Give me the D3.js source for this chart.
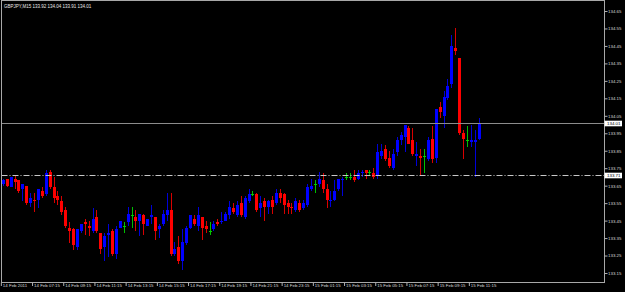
<!DOCTYPE html>
<html>
<head>
<meta charset="utf-8">
<script src="https://cdn.jsdelivr.net/npm/d3@7"></script>
<style>
  html, body { margin: 0; padding: 0; background: #000; }
  svg { display: block; }
  text { font-family: "Liberation Sans", Arial, sans-serif; }
</style>
</head>
<body>
<div id="chart"></div>
<script>
// GBPJPY M15 - une bougie par quart d'heure, 14 Feb 05:15 -> 15 Feb 11:45
var symbolTitle = "GBPJPY,M15";
var opens = [133.66,133.69,133.64,133.69,133.68,133.63,133.65,133.55,133.57,133.57,133.62,133.60,133.73,133.64,133.59,133.56,133.51,133.41,133.40,133.30,
  133.39,133.44,133.42,133.39,133.47,133.38,133.30,133.37,133.39,133.26,133.41,133.42,133.44,133.48,133.47,133.45,133.48,133.42,133.47,133.47,
  133.40,133.43,133.48,133.51,133.26,133.30,133.22,133.32,133.41,133.46,133.42,133.47,133.42,133.39,133.40,133.44,133.44,133.45,133.48,133.52,
  133.48,133.55,133.47,133.56,133.60,133.60,133.52,133.56,133.53,133.57,133.55,133.61,133.60,133.55,133.53,133.51,133.55,133.52,133.54,133.63,
  133.66,133.66,133.68,133.63,133.56,133.57,133.63,133.68,133.70,133.70,133.70,133.69,133.72,133.74,133.73,133.72,133.71,133.82,133.86,133.81,
  133.75,133.84,133.91,133.93,133.98,133.91,133.82,133.82,133.82,133.80,133.92,133.81,134.10,134.05,134.15,134.23,134.44,134.38,133.95,133.91,
  133.90,133.90,133.92];
var highs = [133.69,133.69,133.70,133.71,133.68,133.66,133.65,133.61,133.61,133.63,133.64,133.74,133.74,133.70,133.62,133.59,133.53,133.44,133.41,133.40,
  133.43,133.46,133.45,133.52,133.51,133.38,133.38,133.43,133.40,133.42,133.45,133.44,133.53,133.53,133.51,133.49,133.49,133.46,133.54,133.47,
  133.43,133.51,133.61,133.61,133.33,133.36,133.40,133.42,133.48,133.48,133.53,133.47,133.45,133.44,133.45,133.46,133.50,133.50,133.56,133.55,
  133.56,133.59,133.59,133.63,133.62,133.61,133.59,133.58,133.57,133.59,133.63,133.63,133.61,133.57,133.55,133.58,133.57,133.57,133.66,133.69,
  133.68,133.73,133.72,133.66,133.62,133.68,133.69,133.70,133.72,133.72,133.74,133.74,133.74,133.74,133.74,133.75,133.89,133.89,133.88,133.85,
  133.86,133.93,133.96,134.00,133.99,133.98,133.90,133.86,133.86,133.93,133.99,134.09,134.13,134.19,134.26,134.51,134.55,134.38,133.97,133.99,
  134.00,133.97,134.04];
var lows = [133.65,133.64,133.64,133.63,133.61,133.56,133.54,133.53,133.50,133.52,133.58,133.59,133.63,133.55,133.54,133.48,133.41,133.32,133.28,133.28,
  133.38,133.37,133.36,133.38,133.38,133.26,133.22,133.24,133.25,133.23,133.41,133.38,133.42,133.41,133.39,133.36,133.37,133.42,133.43,133.34,
  133.35,133.42,133.45,133.25,133.25,133.20,133.17,133.31,133.40,133.42,133.39,133.34,133.38,133.37,133.39,133.42,133.43,133.45,133.46,133.49,
  133.47,133.47,133.46,133.55,133.59,133.50,133.47,133.45,133.49,133.49,133.54,133.55,133.49,133.49,133.49,133.50,133.50,133.51,133.53,133.62,
  133.61,133.64,133.61,133.52,133.53,133.56,133.62,133.59,133.68,133.68,133.67,133.68,133.70,133.69,133.71,133.69,133.69,133.80,133.79,133.75,
  133.74,133.82,133.88,133.84,133.89,133.82,133.76,133.71,133.72,133.79,133.78,133.78,134.04,133.98,134.14,134.21,134.40,133.94,133.80,133.87,
  133.87,133.70,133.91];
var closes = [133.68,133.65,133.70,133.67,133.62,133.66,133.55,133.58,133.56,133.63,133.59,133.72,133.64,133.58,133.57,133.50,133.42,133.39,133.31,133.40,
  133.43,133.43,133.41,133.46,133.39,133.29,133.36,133.38,133.26,133.40,133.45,133.42,133.49,133.48,133.45,133.49,133.43,133.46,133.48,133.39,
  133.42,133.49,133.51,133.26,133.29,133.22,133.33,133.41,133.48,133.43,133.48,133.41,133.40,133.39,133.43,133.43,133.45,133.49,133.53,133.50,
  133.54,133.48,133.58,133.60,133.60,133.51,133.55,133.53,133.56,133.53,133.61,133.58,133.54,133.53,133.52,133.56,133.51,133.55,133.64,133.65,
  133.66,133.69,133.63,133.57,133.57,133.62,133.69,133.69,133.70,133.70,133.68,133.72,133.73,133.72,133.73,133.70,133.84,133.85,133.80,133.76,
  133.83,133.91,133.94,134.00,133.89,133.83,133.83,133.81,133.82,133.91,133.80,134.09,134.07,134.16,134.22,134.45,134.42,133.95,133.92,133.91,
  133.91,133.91,134.01];

// Graduations de l'axe des prix
var priceTicks = [133.15,133.25,133.35,133.45,133.55,133.65,133.75,133.85,133.95,134.05,134.15,134.25,134.35,134.45,134.55,134.65];
// Graduations de l'axe du temps (indice de bougie + libellé)
var timeTickIndex = [0,8,16,24,32,40,48,56,64,72,80,88,96,104,112,120];
var timeTickLabels = ["14 Feb 2011","14 Feb 07:15","14 Feb 09:15","14 Feb 11:15","14 Feb 13:15","14 Feb 15:15","14 Feb 17:15","14 Feb 19:15",
  "14 Feb 21:15","14 Feb 23:15","15 Feb 01:15","15 Feb 03:15","15 Feb 05:15","15 Feb 07:15","15 Feb 09:15","15 Feb 11:15"];
// Lignes horizontales : prix courant (bid) et ligne tracée
var bidPrice = 134.01;
var hLinePrice = 133.71;

var width = 625, height = 292;
var plot = { left: 1.5, top: 0.5, right: 604.5, bottom: 282.5 };

var svg = d3.select("#chart").append("svg")
  .attr("width", width)
  .attr("height", height);

svg.append("rect").attr("width", width).attr("height", height).attr("fill", "#000");

var bars = opens.map(function(o, i) {
  return { i: i, o: o, h: highs[i], l: lows[i], c: closes[i] };
});

// échelles
var x = d3.scaleLinear().domain([0, bars.length - 1]).range([2.8, 478.6]);
var step = x(1) - x(0);
var y = d3.scaleLinear().domain([133.15, 134.65]).range([273, 11]);

function candleColor(d) {
  if (d.c > d.o) return "#0000ff";
  if (d.c < d.o) return "#ff0000";
  return "#00d000";
}
function wickColor(d) {
  if (d.c > d.o) return "#0000d8";
  if (d.c < d.o) return "#d80000";
  return "#00c000";
}

var gBars = svg.append("g").attr("shape-rendering", "crispEdges");

// mèches
gBars.selectAll("line.wick")
  .data(bars)
  .enter()
  .append("line")
  .attr("class", "wick")
  .attr("x1", function(d) { return Math.round(x(d.i)) + 0.5; })
  .attr("x2", function(d) { return Math.round(x(d.i)) + 0.5; })
  .attr("y1", function(d) { return y(d.h); })
  .attr("y2", function(d) { return y(d.l); })
  .attr("stroke", wickColor)
  .attr("stroke-width", 1);

// corps des bougies
gBars.selectAll("rect.body")
  .data(bars)
  .enter()
  .append("rect")
  .attr("class", "body")
  .attr("x", function(d) { return Math.round(x(d.i)) - 1; })
  .attr("y", function(d) { return Math.min(y(d.o), y(d.c)); })
  .attr("width", 3)
  .attr("height", function(d) { return Math.max(1, Math.abs(y(d.o) - y(d.c))); })
  .attr("fill", candleColor);

// ligne tirets-points (objet ligne horizontale)
svg.append("line")
  .attr("x1", plot.left).attr("x2", plot.right)
  .attr("y1", Math.round(y(hLinePrice)) + 0.5).attr("y2", Math.round(y(hLinePrice)) + 0.5)
  .attr("stroke", "#c8c8c8")
  .attr("stroke-dasharray", "6,2,1,2");

// ligne du prix courant
svg.append("line")
  .attr("x1", plot.left).attr("x2", plot.right)
  .attr("y1", Math.round(y(bidPrice)) + 0.5).attr("y2", Math.round(y(bidPrice)) + 0.5)
  .attr("stroke", "#8c8c8c");

// cadre du graphique
svg.append("rect")
  .attr("x", plot.left).attr("y", plot.top)
  .attr("width", plot.right - plot.left)
  .attr("height", plot.bottom - plot.top)
  .attr("fill", "none")
  .attr("stroke", "#a8a8a8");

// axe des prix (à droite)
var yAxis = d3.axisRight(y)
  .tickValues(priceTicks)
  .tickSize(3)
  .tickPadding(0.5)
  .tickFormat(d3.format(".2f"));

var gy = svg.append("g")
  .attr("transform", "translate(" + plot.right + ",0)")
  .call(yAxis);
gy.select(".domain").remove();
gy.selectAll(".tick line").attr("stroke", "#b0b0b0");
gy.selectAll(".tick text")
  .attr("fill", "#d8d8d8")
  .attr("font-size", "4.4px")
  .attr("font-family", "Liberation Sans, Arial, sans-serif");

// étiquettes blanches des prix courant et de la ligne
[bidPrice, hLinePrice].forEach(function(p) {
  var yy = Math.round(y(p)) + 0.5;
  svg.append("rect")
    .attr("x", plot.right).attr("y", yy - 2.8)
    .attr("width", 17.5).attr("height", 5.6)
    .attr("fill", "#ffffff");
  svg.append("text")
    .attr("x", plot.right + 2.5).attr("y", yy + 1.6)
    .attr("font-size", "4.4px")
    .attr("fill", "#000")
    .text(d3.format(".2f")(p));
});

// axe du temps (en bas)
var xAxis = d3.axisBottom(x)
  .tickValues(timeTickIndex)
  .tickSize(3.5)
  .tickFormat(function(d, i) { return timeTickLabels[i]; });

var gx = svg.append("g")
  .attr("transform", "translate(" + (-step / 2) + "," + plot.bottom + ")")
  .call(xAxis);
gx.select(".domain").remove();
gx.selectAll(".tick line").attr("stroke", "#b0b0b0");
gx.selectAll(".tick text")
  .attr("text-anchor", "start")
  .attr("x", 1.5)
  .attr("y", 1)
  .attr("dy", "0.71em")
  .attr("fill", "#d8d8d8")
  .attr("font-size", "4.4px")
  .attr("font-family", "Liberation Sans, Arial, sans-serif");

// titre : symbole + OHLC de la dernière bougie
var last = bars[bars.length - 1];
var f2 = d3.format(".2f");
svg.append("text")
  .attr("x", 4)
  .attr("y", 7.5)
  .attr("font-size", "4.5px")
  .attr("fill", "#e8e8e8")
  .text(symbolTitle + " " + f2(last.o) + " " + f2(last.h) + " " + f2(last.l) + " " + f2(last.c));
</script>
</body>
</html>
